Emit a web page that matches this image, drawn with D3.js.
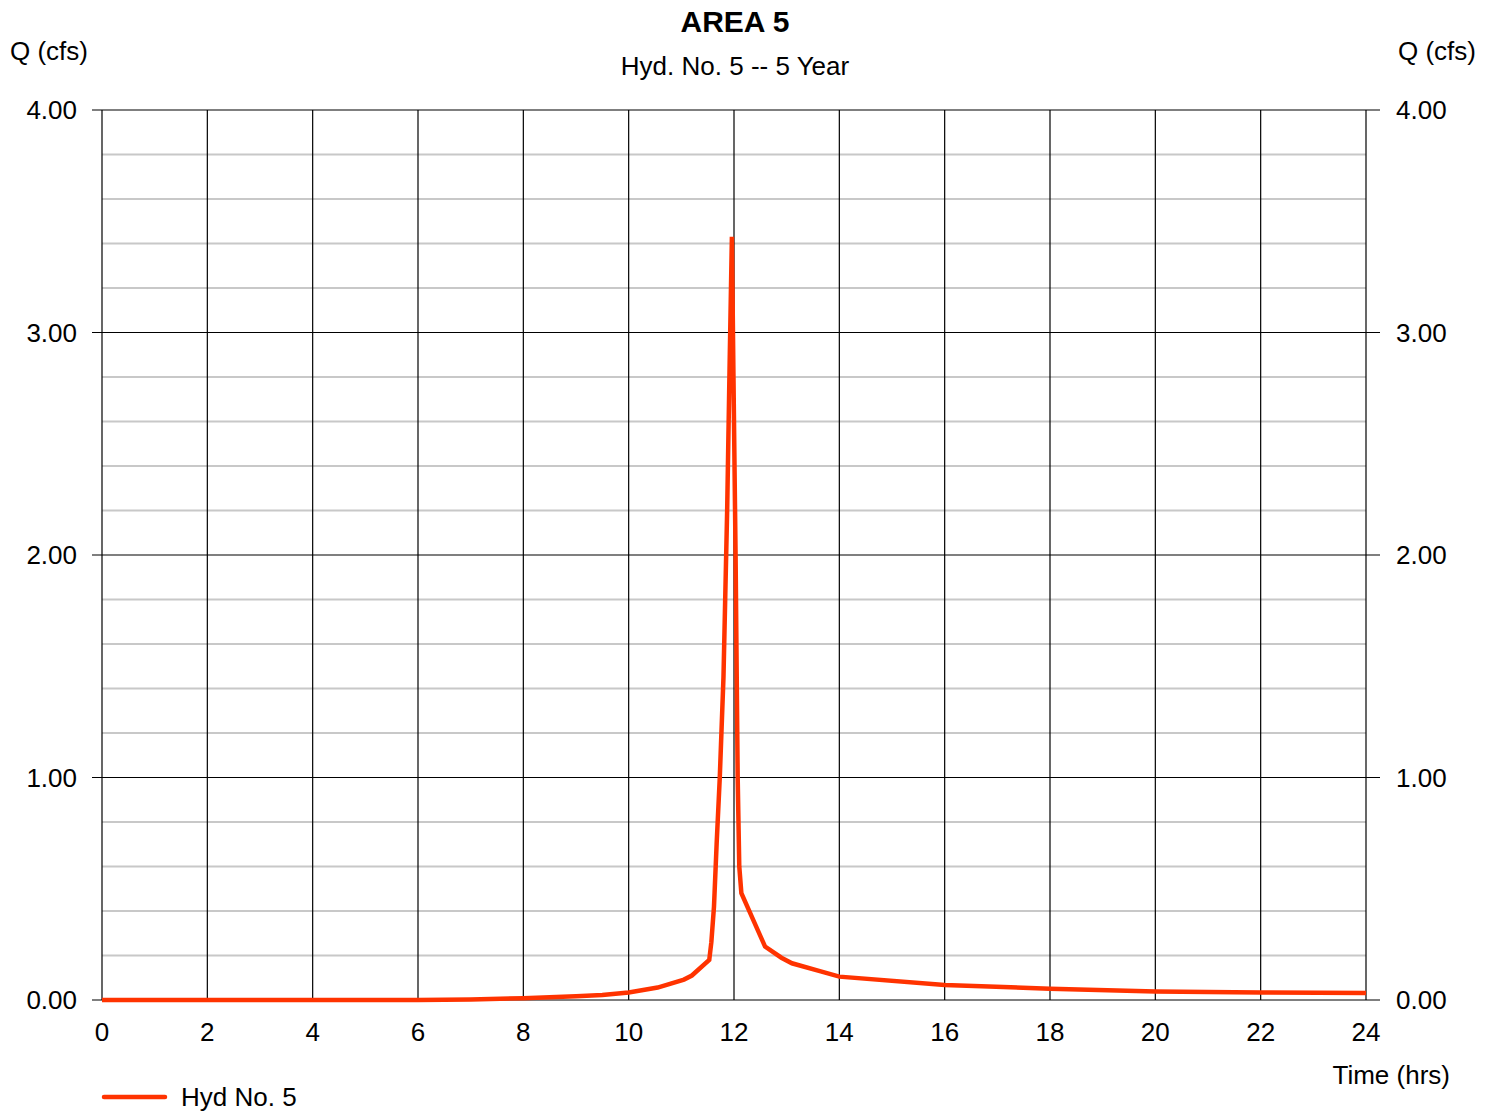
<!DOCTYPE html>
<html><head><meta charset="utf-8">
<script src="https://cdn.jsdelivr.net/npm/d3@7"></script>
<style>body{margin:0;background:#fff;} text{font-family:"Liberation Sans",Arial,sans-serif;fill:#000;}</style>
</head><body>
<svg id="chart" width="1494" height="1112"></svg>
<script>
const titleText = "AREA 5";
const subtitleText = "Hyd. No. 5 -- 5 Year";
const yAxisLabel = "Q (cfs)";
const xAxisLabel = "Time (hrs)";
const seriesName = "Hyd No. 5";
const xTicks = [0,2,4,6,8,10,12,14,16,18,20,22,24];
const yTicks = [0,1,2,3,4];
const yMinorTicks = [0.2,0.4,0.6,0.8,1.2,1.4,1.6,1.8,2.2,2.4,2.6,2.8,3.2,3.4,3.6,3.8];
const timeHrs = [0,1,2,3,4,5,6,7,8,9,9.5,10,10.55,11.05,11.2,11.53,11.57,11.62,11.67,11.73,11.80,11.87,11.92,11.96,11.99,12.03,12.07,12.10,12.14,12.59,12.9,13.1,13.63,14,16,18,20,22,24];
const flowCfs = [0,0,0,0,0,0,0,0.002,0.008,0.017,0.022,0.034,0.056,0.092,0.11,0.18,0.26,0.42,0.70,1.00,1.45,2.20,2.90,3.43,2.80,2.00,1.00,0.60,0.48,0.24,0.19,0.165,0.13,0.105,0.067,0.051,0.038,0.034,0.031];

const svg = d3.select("#chart");
const m = {l:102, r:1366, t:110, b:1000};
const x = d3.scaleLinear().domain([0,24]).range([m.l,m.r]);
const y = d3.scaleLinear().domain([0,4]).range([m.b,m.t]);

// minor gridlines
svg.append("g").selectAll("line").data(yMinorTicks).join("line")
  .attr("x1",m.l).attr("x2",m.r).attr("y1",d=>y(d)).attr("y2",d=>y(d))
  .attr("stroke","#c8c8c8").attr("stroke-width",2);
// major horizontal
svg.append("g").selectAll("line").data(yTicks).join("line")
  .attr("x1",m.l-10).attr("x2",m.r+14).attr("y1",d=>y(d)).attr("y2",d=>y(d))
  .attr("stroke","#000").attr("stroke-width",1.2);
// vertical
svg.append("g").selectAll("line").data(xTicks).join("line")
  .attr("x1",d=>x(d)).attr("x2",d=>x(d)).attr("y1",m.t).attr("y2",m.b)
  .attr("stroke","#000").attr("stroke-width",1.2);

// y labels
svg.append("g").selectAll("text").data(yTicks).join("text")
  .attr("x",77).attr("y",d=>y(d)+9).attr("text-anchor","end").attr("font-size",26)
  .text(d=>d.toFixed(2));
svg.append("g").selectAll("text").data(yTicks).join("text")
  .attr("x",1396).attr("y",d=>y(d)+9).attr("text-anchor","start").attr("font-size",26)
  .text(d=>d.toFixed(2));
// x labels
svg.append("g").selectAll("text").data(xTicks).join("text")
  .attr("x",d=>x(d)).attr("y",1041).attr("text-anchor","middle").attr("font-size",26)
  .text(d=>d);

svg.append("text").attr("x",735).attr("y",32).attr("text-anchor","middle")
  .attr("font-size",30).attr("font-weight","bold").text(titleText);
svg.append("text").attr("x",735).attr("y",75).attr("text-anchor","middle")
  .attr("font-size",26).text(subtitleText);
svg.append("text").attr("x",10).attr("y",60).attr("font-size",26).text(yAxisLabel);
svg.append("text").attr("x",1476).attr("y",60).attr("text-anchor","end").attr("font-size",26).text(yAxisLabel);
svg.append("text").attr("x",1450).attr("y",1084).attr("text-anchor","end").attr("font-size",26).text(xAxisLabel);

// series
const pts = timeHrs.map((t,i)=>[t,flowCfs[i]]);
svg.append("path").datum(pts)
  .attr("d", d3.line().x(d=>x(d[0])).y(d=>y(d[1])))
  .attr("fill","none").attr("stroke","#ff3300").attr("stroke-width",4.5)
  .attr("stroke-linejoin","miter").attr("stroke-miterlimit",2);

// legend
svg.append("line").attr("x1",104).attr("x2",165).attr("y1",1097).attr("y2",1097)
  .attr("stroke","#ff3300").attr("stroke-width",4.5).attr("stroke-linecap","round");
svg.append("text").attr("x",181).attr("y",1106).attr("font-size",26).text(seriesName);
</script>
</body></html>
